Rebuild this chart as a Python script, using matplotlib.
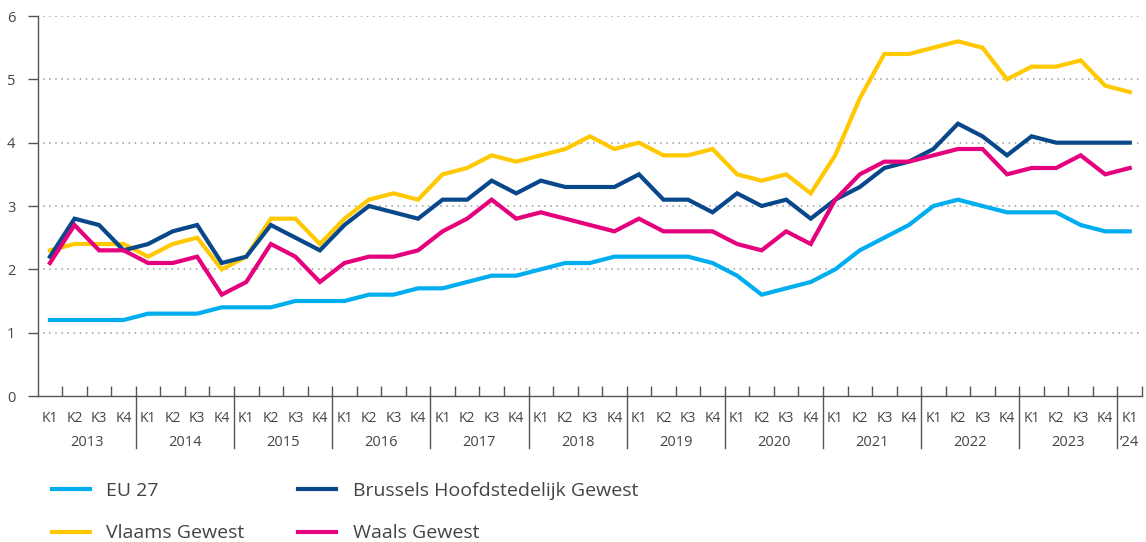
import numpy as np
import matplotlib.pyplot as plt
from matplotlib.transforms import blended_transform_factory

plt.rcParams['font.family'] = ['Open Sans', 'DejaVu Sans']

# Quarters 2013 K1 .. 2024 K1
years = ['2013', '2014', '2015', '2016', '2017', '2018', '2019', '2020',
         '2021', '2022', '2023', '\u201924']
quarter_labels = ['K1', 'K2', 'K3', 'K4'] * 11 + ['K1']

eu27 = [1.2, 1.2, 1.2, 1.2, 1.3, 1.3, 1.3, 1.4, 1.4, 1.4, 1.5, 1.5,
        1.5, 1.6, 1.6, 1.7, 1.7, 1.8, 1.9, 1.9, 2.0, 2.1, 2.1, 2.2,
        2.2, 2.2, 2.2, 2.1, 1.9, 1.6, 1.7, 1.8, 2.0, 2.3, 2.5, 2.7,
        3.0, 3.1, 3.0, 2.9, 2.9, 2.9, 2.7, 2.6, 2.6]
vlaams = [2.3, 2.4, 2.4, 2.4, 2.2, 2.4, 2.5, 2.0, 2.2, 2.8, 2.8, 2.4,
          2.8, 3.1, 3.2, 3.1, 3.5, 3.6, 3.8, 3.7, 3.8, 3.9, 4.1, 3.9,
          4.0, 3.8, 3.8, 3.9, 3.5, 3.4, 3.5, 3.2, 3.8, 4.7, 5.4, 5.4,
          5.5, 5.6, 5.5, 5.0, 5.2, 5.2, 5.3, 4.9, 4.8]
brussel = [2.2, 2.8, 2.7, 2.3, 2.4, 2.6, 2.7, 2.1, 2.2, 2.7, 2.5, 2.3,
           2.7, 3.0, 2.9, 2.8, 3.1, 3.1, 3.4, 3.2, 3.4, 3.3, 3.3, 3.3,
           3.5, 3.1, 3.1, 2.9, 3.2, 3.0, 3.1, 2.8, 3.1, 3.3, 3.6, 3.7,
           3.9, 4.3, 4.1, 3.8, 4.1, 4.0, 4.0, 4.0, 4.0]
waals = [2.1, 2.7, 2.3, 2.3, 2.1, 2.1, 2.2, 1.6, 1.8, 2.4, 2.2, 1.8,
         2.1, 2.2, 2.2, 2.3, 2.6, 2.8, 3.1, 2.8, 2.9, 2.8, 2.7, 2.6,
         2.8, 2.6, 2.6, 2.6, 2.4, 2.3, 2.6, 2.4, 3.1, 3.5, 3.7, 3.7,
         3.8, 3.9, 3.9, 3.5, 3.6, 3.6, 3.8, 3.5, 3.6]

series = [
    ('EU 27', eu27, '#00AEEF'),
    ('Vlaams Gewest', vlaams, '#FFC800'),
    ('Brussels Hoofdstedelijk Gewest', brussel, '#08488A'),
    ('Waals Gewest', waals, '#E5007D'),
]

text_color = '#444444'
axis_color = '#555555'

fig = plt.figure(figsize=(11.46, 5.42), dpi=100)
ax = fig.add_axes([37.7 / 1146, 1 - 396 / 542, (1142 - 37.7) / 1146, 380 / 542])

x = np.arange(len(eu27))
for name, vals, col in series:
    ax.plot(x, vals, color=col, lw=3.0, label=name, solid_joinstyle='miter')

ax.set_xlim(-0.5, len(x) - 0.5)
ax.set_ylim(0, 6)
ax.set_yticks(range(0, 7))
ax.tick_params(axis='y', direction='out', length=7, width=1, color=axis_color,
               labelsize=10.5, labelcolor=text_color, pad=9)
for v in range(1, 7):
    ax.axhline(v, color='#9a9a9a', lw=1.1, ls=(0, (1, 3)), zorder=0,
               xmin=0.005, xmax=1)

# quarter boundary ticks pointing up
ax.set_xticks(np.arange(0.5, len(x) - 0.4, 1.0))
ax.set_xticklabels([])
ax.tick_params(axis='x', direction='in', length=7, width=1, color=axis_color)

for s in ['top', 'right']:
    ax.spines[s].set_visible(False)
for s in ['left', 'bottom']:
    ax.spines[s].set_color(axis_color)
    ax.spines[s].set_linewidth(1)

tr = blended_transform_factory(ax.transData, ax.transAxes)
for i, q in enumerate(quarter_labels):
    ax.text(i, -22 / 380, q, transform=tr, ha='center', va='center',
            fontsize=10, color=text_color)
for k, yr in enumerate(years):
    n = 4 if k < len(years) - 1 else 1
    ax.text(4 * k + (n - 1) / 2, -46 / 380, yr, transform=tr, ha='center',
            va='center', fontsize=10.5, color=text_color)
    if k > 0:
        xb = 4 * k - 0.5
        ax.plot([xb, xb], [0, -52 / 380], transform=tr, color=axis_color,
                lw=1, clip_on=False)

handles, labels = ax.get_legend_handles_labels()
leg = fig.legend(handles, labels, ncol=2, loc='upper left',
                 bbox_to_anchor=(52 / 1146, 1 - 482 / 542), frameon=False,
                 fontsize=14, handlelength=1.95, handletextpad=0.85,
                 columnspacing=2.75, labelspacing=1.25, borderaxespad=0,
                 borderpad=0)
for t in leg.get_texts():
    t.set_color(text_color)

fig.savefig('out.png', dpi=100)
